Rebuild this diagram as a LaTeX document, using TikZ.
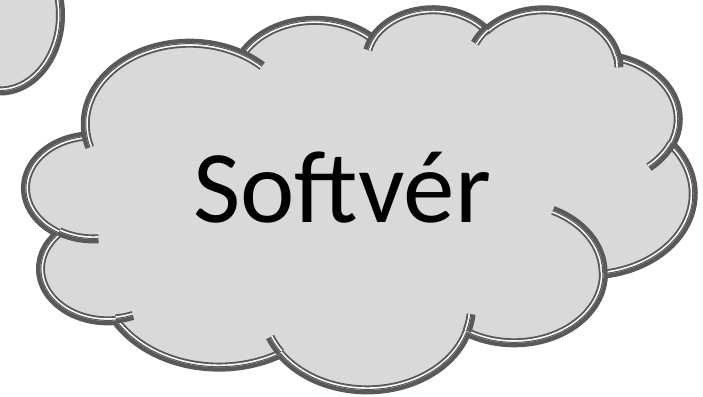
\documentclass[tikz,border=0pt]{standalone}
\usepackage{fontspec}
\setmainfont{Carlito}

\definecolor{rimgray}{HTML}{595959}
\definecolor{cloudgray}{HTML}{D9D9D9}

% cloud frame in px (1px = 1pt), y counted downwards
\newcommand\cloudx{26}
\newcommand\cloudy{8.5}
\newcommand\cloudw{667}
\newcommand\cloudh{380}

% point of the 432 x 432 cloud grid
\newcommand\cloudpt[2]{({(\cloudx+#1/432*\cloudw)*1pt},{-(\cloudy+#2/432*\cloudh)*1pt})}
% arc: radii, start angle and sweep in degrees
\newcommand\cloudarc[4]{arc[x radius={#1/432*\cloudw*1pt}, y radius={#2/432*\cloudh*1pt},
  start angle={-pang(#1,#2,#3)}, end angle={-pend(#1,#2,#3,#4)}]}

\newcommand\cloudpath{\cloudpt{39.00}{143.70}
  \cloudarc{67.53}{91.90}{-190.4875}{123.7805}
  \cloudarc{53.33}{72.67}{-144.1024}{89.9452}
  \cloudarc{43.65}{59.45}{-145.8079}{99.7230}
  \cloudarc{48.57}{65.95}{-130.9861}{117.2417}
  \cloudarc{53.33}{72.73}{-78.7089}{109.0269}
  \cloudarc{67.75}{92.20}{-46.2673}{130.2690}
  \cloudarc{57.85}{78.67}{0.6250}{114.0333}
  \cloudarc{67.52}{92.15}{22.4516}{115.1726}
  \cloudarc{77.20}{105.43}{66.2426}{75.7110}
  \cloudarc{43.60}{59.18}{-274.9421}{146.7356}
  \cloudarc{43.45}{59.45}{-246.8285}{152.5189}
  -- cycle}

% open arc inside the cloud, thick side outwards
\newcommand\innerarc[6]{%
  \draw[rim] \cloudpt{#1}{#2} \cloudarc{#3}{#4}{#5}{#6};
  \begin{scope}
    \clip \cloudpt{#1}{#2}
      ++({-#3/432*\cloudw*cos(pang(#3,#4,#5))*1pt},{#4/432*\cloudh*sin(pang(#3,#4,#5))*1pt})
      ellipse[x radius={#3/432*\cloudw*1pt}, y radius={#4/432*\cloudh*1pt}];
    \draw[rimgap] \cloudpt{#1}{#2} \cloudarc{#3}{#4}{#5}{#6};
    \draw[rimthin] \cloudpt{#1}{#2} \cloudarc{#3}{#4}{#5}{#6};
  \end{scope}}

\begin{document}
\begin{tikzpicture}[
    declare function={
      pang(\rx,\ry,\ta)=atan2(\rx*sin(\ta),\ry*cos(\ta));
      pend(\rx,\ry,\ta,\tb)=pang(\rx,\ry,\ta)+mod(pang(\rx,\ry,\ta+\tb)-pang(\rx,\ry,\ta)+720,360);
    },
    rim/.style={draw=rimgray, line width=9pt, line join=round},
    rimgap/.style={draw=white, line width=5.2pt, line join=round},
    rimthin/.style={draw=rimgray, line width=2pt, line join=round},
  ]
  \useasboundingbox (0,0) rectangle (703pt,-396pt);
  \clip (0,0) rectangle (703pt,-396pt);

  % neighbour shape, cut by the page
  \coordinate (nb) at (0pt,-15pt);
  \fill[cloudgray] (nb) ellipse[x radius=60.5pt, y radius=76pt];
  \draw[rim] (nb) ellipse[x radius=60.5pt, y radius=76pt];
  \begin{scope}
    \clip (nb) ellipse[x radius=60.5pt, y radius=76pt];
    \draw[rimgap] (nb) ellipse[x radius=60.5pt, y radius=76pt];
    \draw[rimthin] (nb) ellipse[x radius=60.5pt, y radius=76pt];
  \end{scope}

  % the cloud
  \fill[cloudgray] \cloudpath;
  \draw[rim] \cloudpath;
  \begin{scope}
    \clip \cloudpath;
    \draw[rimgap] \cloudpath;
    \draw[rimthin] \cloudpath;
  \end{scope}

  \innerarc{46.93}{261.77}{43.45}{59.45}{86.7420}{26.4295}
  \innerarc{69.28}{348.99}{43.60}{59.18}{73.6105}{11.4475}
  \innerarc{164.78}{390.90}{67.52}{92.15}{137.6242}{14.0811}
  \innerarc{288.27}{347.51}{67.52}{92.15}{6.4533}{15.9984}
  \innerarc{341.29}{229.54}{57.85}{78.67}{-70.2924}{70.9174}
  \innerarc{417.98}{153.54}{53.33}{72.73}{30.3180}{27.7515}
  \innerarc{383.24}{54.26}{48.57}{65.95}{-13.7443}{14.8589}
  \innerarc{290.78}{39.52}{48.57}{65.95}{-149.1815}{18.1954}
  \innerarc{221.41}{47.20}{43.65}{59.45}{-163.4943}{17.6864}
  \innerarc{140.00}{51.92}{67.53}{91.90}{-66.7070}{12.3194}
  \innerarc{41.27}{157.89}{67.53}{91.90}{157.6544}{11.8582}

  \node (label) at (342pt,-222pt) [anchor=base, font=\fontsize{103}{112}\selectfont] {Softvér};
\end{tikzpicture}
\end{document}
